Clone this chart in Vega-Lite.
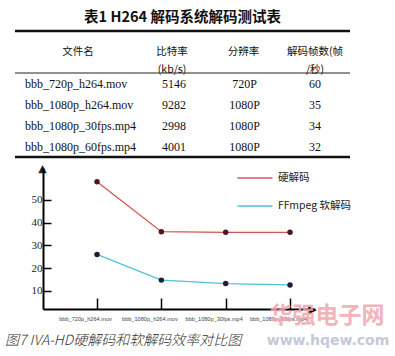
{
  "$schema": "https://vega.github.io/schema/vega-lite/v6.json",
  "padding": {"left": 5, "top": 10, "right": 5, "bottom": 0},
  "background": "white",
  "config": {"view": {"stroke": null}},
  "spacing": 3,
  "resolve": {"legend": {"color": "independent"}},
  "vconcat": [
    {
      "width": 335,
      "height": 126,
      "title": {"text": "表1 H264 解码系统解码测试表", "font": "Noto Sans CJK SC", "fontSize": 14.5, "fontWeight": "bold", "color": "#111", "offset": 4, "anchor": "middle", "frame": "group"},
      "resolve": {"scale": {"x": "independent"}},
      "layer": [
        {
          "data": {"values": [{"line": "top"}]},
          "mark": {"type": "rule", "strokeWidth": 2.5, "color": "#111"},
          "encoding": {"y": {"datum": "_header", "type": "nominal", "bandPosition": 0, "scale": {"type": "band", "domain": ["_header", "文件名", "bbb_720p_h264.mov", "bbb_1080p_h264.mov", "bbb_1080p_30fps.mp4", "bbb_1080p_60fps.mp4"], "paddingInner": 0, "paddingOuter": 0}, "axis": null}}
        },
        {
          "data": {"values": [{"line": "mid"}]},
          "mark": {"type": "rule", "strokeWidth": 1, "color": "#222"},
          "encoding": {"y": {"datum": "bbb_720p_h264.mov", "type": "nominal", "bandPosition": 0, "axis": null}}
        },
        {
          "data": {"values": [{"line": "bottom"}]},
          "mark": {"type": "rule", "strokeWidth": 2.5, "color": "#111"},
          "encoding": {"y": {"datum": "bbb_1080p_60fps.mp4", "type": "nominal", "bandPosition": 1, "axis": null}}
        },
        {
          "data": {"values": [{"label": "文件名"}]},
          "mark": {"type": "text", "font": "Noto Sans CJK SC", "fontSize": 10.5, "color": "#111", "baseline": "middle", "align": "center"},
          "encoding": {
            "x": {"datum": "文件名", "type": "nominal", "bandPosition": 0.5, "scale": {"type": "band", "domain": ["文件名"], "range": [10, 116], "paddingInner": 0, "paddingOuter": 0}, "axis": null},
            "y": {"datum": "文件名", "type": "nominal", "bandPosition": 0, "axis": null},
            "text": {"field": "label", "type": "nominal"}
          }
        },
        {
          "data": {"values": [
            {"col": "bitrate", "label": "比特率\n(kb/s)"},
            {"col": "res", "label": "分辨率"},
            {"col": "fps", "label": "解码帧数(帧\n/秒)"}
          ]},
          "mark": {"type": "text", "font": "Noto Sans CJK SC", "fontSize": 10.5, "color": "#111", "baseline": "middle", "align": "center", "lineBreak": "\n", "lineHeight": 18},
          "encoding": {
            "x": {"field": "col", "type": "nominal", "scale": {"type": "point", "domain": ["bitrate", "res", "fps"], "range": [157, 300], "padding": 0}, "axis": null},
            "y": {"datum": "文件名", "type": "nominal", "bandPosition": 0, "axis": null},
            "text": {"field": "label", "type": "nominal"}
          }
        },
        {
          "data": {"values": [
            {"file": "bbb_720p_h264.mov", "bitrate": 5146, "res": "720P", "fps": 60},
            {"file": "bbb_1080p_h264.mov", "bitrate": 9282, "res": "1080P", "fps": 35},
            {"file": "bbb_1080p_30fps.mp4", "bitrate": 2998, "res": "1080P", "fps": 34},
            {"file": "bbb_1080p_60fps.mp4", "bitrate": 4001, "res": "1080P", "fps": 32}
          ]},
          "transform": [{"fold": ["bitrate", "res", "fps"], "as": ["col", "val"]}],
          "mark": {"type": "text", "font": "Liberation Serif", "fontSize": 12, "color": "#111", "baseline": "middle", "align": "center"},
          "encoding": {
            "x": {"field": "col", "type": "nominal", "scale": {"type": "point", "domain": ["bitrate", "res", "fps"], "range": [159, 300], "padding": 0}, "axis": null},
            "y": {"field": "file", "type": "nominal", "bandPosition": 0.5, "axis": null},
            "text": {"field": "val", "type": "nominal"}
          }
        },
        {
          "data": {"values": [
            {"file": "bbb_720p_h264.mov"},
            {"file": "bbb_1080p_h264.mov"},
            {"file": "bbb_1080p_30fps.mp4"},
            {"file": "bbb_1080p_60fps.mp4"}
          ]},
          "mark": {"type": "text", "font": "Liberation Serif", "fontSize": 12, "color": "#111", "baseline": "middle", "align": "left"},
          "encoding": {
            "x": {"datum": "文件名", "type": "nominal", "bandPosition": 0, "scale": {"type": "band", "domain": ["文件名"], "range": [10, 116], "paddingInner": 0, "paddingOuter": 0}, "axis": null},
            "y": {"field": "file", "type": "nominal", "bandPosition": 0.5, "axis": null},
            "text": {"field": "file", "type": "nominal"}
          }
        }
      ]
    },
    {
      "width": 300,
      "height": 141,
      "title": {"text": "图7 IVA-HD硬解码和软解码效率对比图", "orient": "bottom", "anchor": "start", "frame": "group", "dx": -10, "offset": -14, "font": "Noto Sans CJK SC", "fontSize": 14, "fontStyle": "italic", "fontWeight": 300, "color": "#333"},
      "data": {"values": [
        {"file": "bbb_720p_h264.mov", "series": "硬解码", "fps": 58},
        {"file": "bbb_1080p_h264.mov", "series": "硬解码", "fps": 36},
        {"file": "bbb_1080p_30fps.mp4", "series": "硬解码", "fps": 35.7},
        {"file": "bbb_1080p_60fps.mp4", "series": "硬解码", "fps": 35.7},
        {"file": "bbb_720p_h264.mov", "series": "FFmpeg 软解码", "fps": 26},
        {"file": "bbb_1080p_h264.mov", "series": "FFmpeg 软解码", "fps": 14.7},
        {"file": "bbb_1080p_30fps.mp4", "series": "FFmpeg 软解码", "fps": 13.2},
        {"file": "bbb_1080p_60fps.mp4", "series": "FFmpeg 软解码", "fps": 12.6}
      ]},
      "resolve": {"scale": {"y": "independent"}, "axis": {"y": "independent"}},
      "layer": [
        {
          "mark": {"type": "line", "strokeWidth": 1.3},
          "encoding": {
            "x": {"field": "file", "type": "nominal", "sort": null,
              "scale": {"type": "point", "domain": ["bbb_720p_h264.mov", "bbb_1080p_h264.mov", "bbb_1080p_30fps.mp4", "bbb_1080p_60fps.mp4"], "range": [28, 300], "padding": 0.614, "align": 0.684},
              "axis": {"orient": "bottom", "title": null, "domainColor": "#000", "domainWidth": 2, "tickColor": "#000", "tickWidth": 1.5, "tickSize": -11, "labelPadding": 18, "labelOffset": -12, "labelAngle": 0, "labelFont": "Liberation Sans", "labelFontSize": 5.6, "labelColor": "#444", "labelOverlap": false, "labelFlush": false, "grid": false}},
            "y": {"field": "fps", "type": "quantitative",
              "scale": {"domain": [2, 64], "nice": false, "zero": false},
              "axis": {"orient": "left", "offset": -28, "values": [10, 20, 30, 40, 50, 64], "labelExpr": "datum.value == 64 ? '▲' : datum.label", "title": null, "grid": false, "domainColor": "#000", "domainWidth": 2, "tickColor": "#000", "tickWidth": 1.5, "tickSize": -8,
                "tickOpacity": {"condition": {"test": "datum.value == 64", "value": 0}, "value": 1},
                "labelAlign": {"condition": {"test": "datum.value == 64", "value": "center"}, "value": "right"},
                "labelFont": {"condition": {"test": "datum.value == 64", "value": "DejaVu Sans"}, "value": "Liberation Serif"},
                "labelFontSize": {"condition": {"test": "datum.value == 64", "value": 11}, "value": 11},
                "labelPadding": 9, "labelColor": "#222", "labelBaseline": "middle", "labelFlush": false, "labelOverlap": false}},
            "color": {"field": "series", "type": "nominal",
              "scale": {"domain": ["硬解码", "FFmpeg 软解码"], "range": ["#d65252", "#4fc2da"]},
              "legend": {"orient": "none", "legendX": 230, "legendY": 0, "title": null, "symbolType": "M-2,0L2,0", "symbolSize": 306, "symbolStrokeWidth": 1.8, "symbolOpacity": 0.75, "labelFont": "Noto Sans CJK SC", "labelFontSize": 10.5, "labelColor": "#222", "labelOffset": 13, "rowPadding": 12, "padding": 0}}
          }
        },
        {
          "mark": {"type": "circle", "size": 30, "opacity": 1},
          "encoding": {
            "x": {"field": "file", "type": "nominal", "sort": null},
            "y": {"field": "fps", "type": "quantitative",
              "scale": {"domain": [2, 64], "nice": false, "zero": false},
              "axis": {"orient": "right", "values": [2], "labelExpr": "'▶'", "domain": false, "ticks": false, "grid": false, "title": null, "labelAlign": "center", "labelBaseline": "middle", "labelPadding": -3, "labelFont": "DejaVu Sans", "labelFontSize": 11, "labelColor": "#000", "labelFlush": false, "labelOverlap": false}},
            "fill": {"condition": {"test": "datum.series == '硬解码'", "value": "#4a1820"}, "value": "#1a1f33"}
          }
        },
        {
          "data": {"values": [{"mark": "华强电子网"}]},
          "mark": {"type": "text", "font": "Noto Sans CJK SC", "fontWeight": "bold", "fontSize": 23, "color": "#f2a6ae", "opacity": 0.85, "align": "center", "baseline": "middle", "dx": 37},
          "encoding": {
            "x": {"datum": "bbb_1080p_60fps.mp4", "type": "nominal"},
            "y": {"datum": -1.0, "type": "quantitative", "scale": {"domain": [2, 64], "nice": false, "zero": false}, "axis": null},
            "text": {"field": "mark", "type": "nominal"}
          }
        },
        {
          "data": {"values": [{"mark": "www.hqew.com"}]},
          "mark": {"type": "text", "font": "DejaVu Sans", "fontWeight": "bold", "fontSize": 14, "color": "#c4c9da", "align": "center", "baseline": "middle", "dx": 38},
          "encoding": {
            "x": {"datum": "bbb_1080p_60fps.mp4", "type": "nominal"},
            "y": {"datum": -12.1, "type": "quantitative", "scale": {"domain": [2, 64], "nice": false, "zero": false}, "axis": null},
            "text": {"field": "mark", "type": "nominal"}
          }
        }
      ]
    }
  ]
}
